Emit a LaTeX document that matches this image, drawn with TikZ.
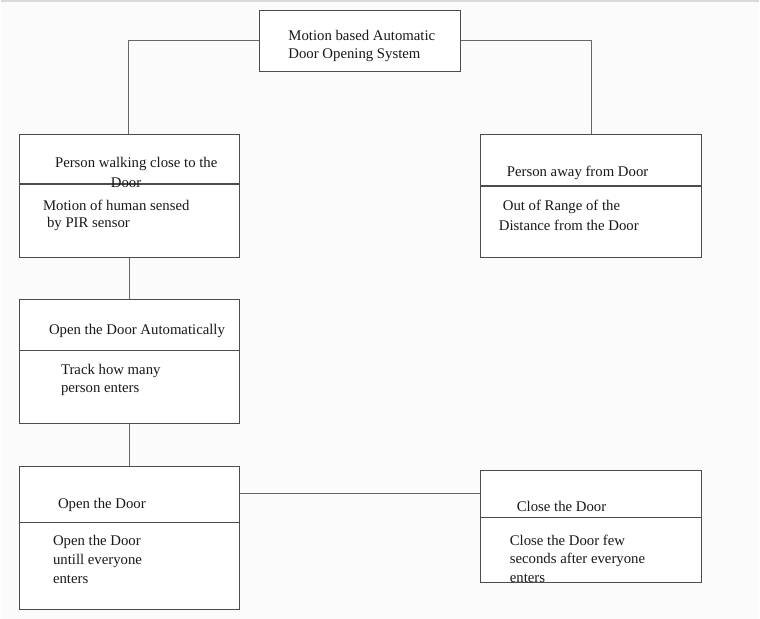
\documentclass[tikz,border=0pt]{standalone}
\usepackage{fontspec}
\setmainfont{Liberation Serif}
\begin{document}
\begin{tikzpicture}[x=1pt,y=-1pt,
  box/.style={draw=black!70,line width=0.9pt,fill=white,inner sep=0pt},
  txt/.style={anchor=west,inner sep=0pt,font=\fontsize{14.8}{17}\selectfont,text=black!90},
  link/.style={draw=black!60,line width=0.8pt},
  divline/.style={draw=black!70,line width=1.1pt}]
\fill[black!1.5] (0,0) rectangle (760,620);
\draw[black!15,line width=2pt] (0,0.5) -- (760,0.5);
\useasboundingbox (0,0) rectangle (760,620);
% boxes
\node[box,minimum width=202pt,minimum height=61pt] (top) at (360,40.5) {};
\node[box,minimum width=221pt,minimum height=124pt] (l1) at (128.5,196) {};
\node[box,minimum width=221pt,minimum height=124pt] (r1) at (591.5,196) {};
\node[box,minimum width=221pt,minimum height=124pt] (l2) at (128.5,362) {};
\node[box,minimum width=221pt,minimum height=144pt] (l3) at (128.5,539) {};
\node[box,minimum width=221pt,minimum height=112pt] (r3) at (591.5,527) {};
% dividers
\draw[divline] (18,184) -- (239,184);
\draw[divline] (481,186) -- (702,186);
\draw[divline] (18,351) -- (239,351);
\draw[divline] (18,523) -- (239,523);
\draw[divline] (481,518) -- (702,518);
% connectors
\coordinate (tl) at (128,40);
\coordinate (tr) at (592,40);
\draw[link] (top.west |- tl) -- (tl) -- (tl |- l1.north);
\draw[link] (top.east |- tr) -- (tr) -- (tr |- r1.north);
\draw[link] (l1.south) -- (l2.north);
\draw[link] (l2.south) -- (l3.north);
\coordinate (mid) at (239,494);
\draw[link] (l3.east |- mid) -- (r3.west |- mid);
% texts
\node[txt] (t1) at (288,35.5) {Motion based Automatic};
\node[txt] (t2) at (288,54.5) {Door Opening System};
\node[txt] (a1) at (54,163.5) {Person walking close to the};
\node[txt] (a2) at (110,182.5) {Door};
\node[txt] (a3) at (42,205.5) {Motion of human sensed};
\node[txt] (a4) at (46,224.5) {by PIR sensor};
\node[txt] (b1) at (507,172.5) {Person away from Door};
\node[txt] (b2) at (503,206.5) {Out of Range of the};
\node[txt] (b3) at (499,225.5) {Distance from the Door};
\node[txt] (c1) at (48,331.5) {Open the Door Automatically};
\node[txt] (c2) at (60,371.5) {Track how many};
\node[txt] (c3) at (60,390.5) {person enters};
\node[txt] (d1) at (57,505.5) {Open the Door};
\node[txt] (d2) at (52,542.5) {Open the Door};
\node[txt] (d3) at (52,561.5) {untill everyone};
\node[txt] (d4) at (52,580.5) {enters};
\node[txt] (e1) at (517,507.5) {Close the Door};
\node[txt] (e2) at (510,541.5) {Close the Door few};
\node[txt] (e3) at (510,560.5) {seconds after everyone};
\node[txt] (e4) at (510,579.5) {enters};
\end{tikzpicture}
\end{document}
